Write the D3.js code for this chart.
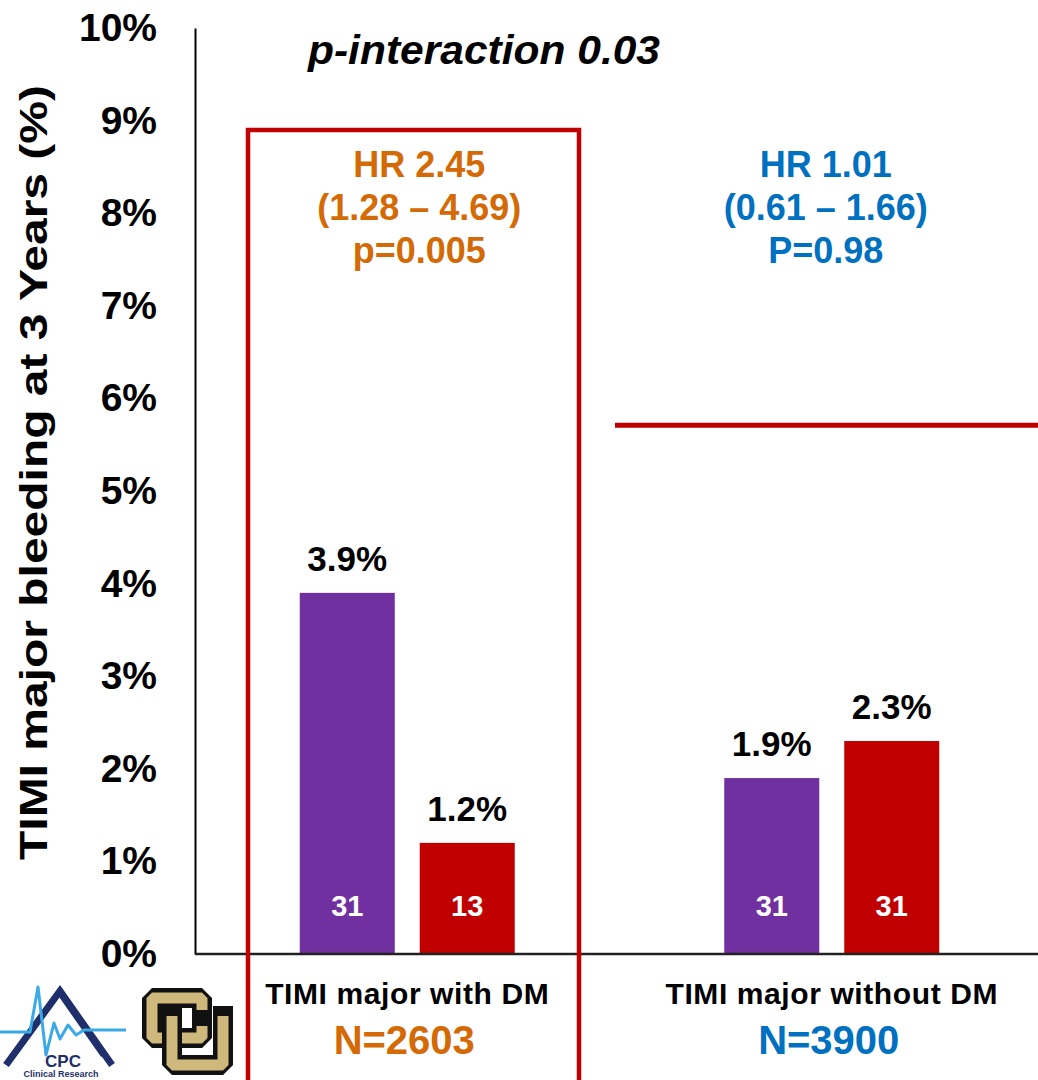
<!DOCTYPE html>
<html>
<head>
<meta charset="utf-8">
<script src="https://cdn.jsdelivr.net/npm/d3@7"></script>
<style>
  html, body { margin: 0; padding: 0; background: #fff; }
  svg { display: block; font-family: "Liberation Sans", Arial, sans-serif; }
</style>
</head>
<body>
<svg id="chart" width="1038" height="1080"></svg>
<script>
// Groups, series and values (percent at 3 years)
const groups = ["TIMI major with DM", "TIMI major without DM"];
const groupN = ["N=2603", "N=3900"];
const series = ["a", "b"];
const values = [
  [3.9, 1.2],
  [1.9, 2.3]
];
const events = [
  [31, 13],
  [31, 31]
];
const yTicks = [0, 1, 2, 3, 4, 5, 6, 7, 8, 9, 10];
const hrLines = [
  ["HR 2.45", "(1.28 \u2013 4.69)", "p=0.005"],
  ["HR 1.01", "(0.61 \u2013 1.66)", "P=0.98"]
];
const interactionText = "p-interaction 0.03";

const seriesColor = { a: "#7030A0", b: "#C00000" };
const groupColor = ["#D46A06", "#0070C0"];

const svg = d3.select("#chart");

const y = d3.scaleLinear().domain([0, 10]).range([954, 28]);
const x0 = d3.scaleBand().domain(groups).range([195, 1044]).padding(0);
const x1 = d3.scaleBand().domain(series).range([0, 215]).paddingInner(0.208);
const innerOffset = (x0.bandwidth() - 215) / 2;

// y axis
const yAxis = svg.append("g")
  .attr("transform", "translate(195,0)")
  .call(d3.axisLeft(y).tickValues(yTicks).tickSize(0).tickSizeOuter(0).tickPadding(38)
    .tickFormat(d => d + "%"));
yAxis.select(".domain").attr("stroke", "#000").attr("stroke-width", 2);
yAxis.selectAll(".tick text")
  .attr("font-size", 39).attr("font-weight", "bold").attr("fill", "#000")
  .attr("font-family", "'Liberation Sans', Arial, sans-serif");

// y title
svg.append("text")
  .attr("transform", `translate(47,${(85 + 860) / 2}) rotate(-90)`)
  .attr("text-anchor", "middle")
  .attr("font-size", 39).attr("font-weight", "bold").attr("fill", "#000")
  .attr("textLength", 775).attr("lengthAdjust", "spacingAndGlyphs")
  .text("TIMI major bleeding at 3 Years (%)");

// bars
const g = svg.selectAll("g.group").data(groups).join("g")
  .attr("class", "group")
  .attr("transform", d => `translate(${x0(d) + innerOffset},0)`);

g.each(function(grp, gi) {
  const sel = d3.select(this);
  series.forEach((s, si) => {
    const v = values[gi][si];
    const bx = x1(s), bw = x1.bandwidth();
    sel.append("rect")
      .attr("x", bx).attr("y", y(v))
      .attr("width", bw).attr("height", y(0) - y(v))
      .attr("fill", seriesColor[s]);
    sel.append("text")
      .attr("x", bx + bw / 2).attr("y", y(v) - 22)
      .attr("text-anchor", "middle")
      .attr("font-size", 35).attr("font-weight", "bold").attr("fill", "#000")
      .text(v.toFixed(1) + "%");
    sel.append("text")
      .attr("x", bx + bw / 2).attr("y", y(0) - 38)
      .attr("text-anchor", "middle")
      .attr("font-size", 29).attr("font-weight", "bold").attr("fill", "#fff")
      .text(events[gi][si]);
  });
});

// baseline
svg.append("line")
  .attr("x1", 195).attr("x2", 1038).attr("y1", y(0)).attr("y2", y(0))
  .attr("stroke", "#222").attr("stroke-width", 2.5);

// category labels and group sizes
groups.forEach((grp, gi) => {
  const cx = x0(grp) + x0.bandwidth() / 2;
  svg.append("text")
    .attr("x", cx).attr("y", 1004)
    .attr("text-anchor", "middle")
    .attr("font-size", 30).attr("font-weight", "bold").attr("fill", "#000")
    .attr("letter-spacing", 0.6)
    .text(grp);
  svg.append("text")
    .attr("x", cx - 3).attr("y", 1054)
    .attr("text-anchor", "middle")
    .attr("font-size", 40).attr("font-weight", "bold").attr("fill", groupColor[gi])
    .text(groupN[gi]);
  hrLines[gi].forEach((t, li) => {
    svg.append("text")
      .attr("x", cx + (gi === 0 ? 12 : -6)).attr("y", 177 + li * 43)
      .attr("text-anchor", "middle")
      .attr("font-size", 36).attr("font-weight", "bold").attr("fill", groupColor[gi])
      .text(t);
  });
});

// interaction p-value
svg.append("text")
  .attr("x", 308).attr("y", 64)
  .attr("font-size", 40).attr("font-weight", "bold").attr("font-style", "italic")
  .attr("fill", "#000")
  .attr("textLength", 352).attr("lengthAdjust", "spacingAndGlyphs")
  .text(interactionText);

// highlight box around the diabetes group
svg.append("rect")
  .attr("x", 248).attr("y", 130).attr("width", 331).attr("height", 1000)
  .attr("fill", "none").attr("stroke", "#C00000").attr("stroke-width", 4.5);

// red rule on the right
svg.append("line")
  .attr("x1", 615).attr("x2", 1038).attr("y1", y(5.71)).attr("y2", y(5.71))
  .attr("stroke", "#C00000").attr("stroke-width", 5);

// CPC Clinical Research logo
const cpc = svg.append("g").attr("transform", "translate(0,985)");
cpc.append("path")
  .attr("d", "M6,80 L60,6 L112,80")
  .attr("fill", "none").attr("stroke", "#1F2F6B").attr("stroke-width", 7)
  .attr("stroke-linejoin", "miter");
cpc.append("path")
  .attr("d", "M62,10 L104,70")
  .attr("fill", "none").attr("stroke", "#1F2F6B").attr("stroke-width", 7);
cpc.append("path")
  .attr("d", "M0,47 L30,47 L38,2 L46,70 L54,38 L60,54 L68,40 L76,50 L84,45 L126,45")
  .attr("fill", "none").attr("stroke", "#3BA9E6").attr("stroke-width", 3)
  .attr("stroke-linejoin", "round");
cpc.append("text")
  .attr("x", 63).attr("y", 82).attr("text-anchor", "middle")
  .attr("font-size", 17).attr("font-weight", "bold").attr("fill", "#1F2F6B")
  .text("CPC");
cpc.append("text")
  .attr("x", 61).attr("y", 92).attr("text-anchor", "middle")
  .attr("font-size", 9).attr("font-weight", "bold").attr("fill", "#1F2F6B")
  .text("Clinical Research");

// CU logo: interlocking block letters, gold with black outline
const cu = svg.append("g").attr("transform", "translate(142,988)");
const cPath = "M60,22 L60,10 L10,10 L10,50 L60,50 L60,38";
const uPath = "M30,28 L30,77 L81,77 L81,28";
[cPath, uPath].forEach(p => {
  cu.append("path").attr("d", p).attr("fill", "none")
    .attr("stroke", "#111").attr("stroke-width", 20).attr("stroke-linejoin", "bevel")
    .attr("stroke-linecap", "square");
  cu.append("path").attr("d", p).attr("fill", "none")
    .attr("stroke", "#CFB87C").attr("stroke-width", 11).attr("stroke-linejoin", "bevel");
});
</script>
</body>
</html>
